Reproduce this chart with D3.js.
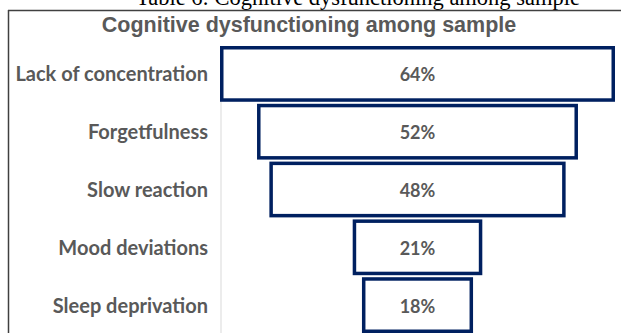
<!DOCTYPE html>
<html><head><meta charset="utf-8">
<script src="https://cdn.jsdelivr.net/npm/d3@7"></script>
<style>html,body{margin:0;padding:0;background:#fff;overflow:hidden}</style>
</head><body>
<svg id="c" width="621" height="333"></svg>
<script>
const categories = ["Lack of concentration","Forgetfulness","Slow reaction","Mood deviations","Sleep deprivation"];
const values = [64, 52, 48, 21, 18];
const valueLabels = ["64%","52%","48%","21%","18%"];
const chartTitle = "Cognitive dysfunctioning among sample";
const captionText = "Table 6: Cognitive dysfunctioning among sample";

const svg = d3.select("#c");
const W = 621, H = 333;
const cx = 417.5;
const navy = "#002060", grey = "#595959";
const sw = 3.5;

// caption, cut off at top
svg.append("text").attr("x", 358).attr("y", 4.5)
  .attr("text-anchor","middle")
  .attr("font-family","Liberation Serif, Times New Roman, serif")
  .attr("font-size", 22.5).attr("fill","#000").text(captionText);

// frame
svg.append("line").attr("x1",8).attr("x2",W).attr("y1",10.5).attr("y2",10.5).attr("stroke","#404040").attr("stroke-width",1.5);
svg.append("line").attr("x1",8.5).attr("x2",8.5).attr("y1",10).attr("y2",H).attr("stroke","#404040").attr("stroke-width",1.5);

svg.append("text").attr("x", 309).attr("y", 32)
  .attr("text-anchor","middle")
  .attr("font-family","Liberation Sans, Arial, sans-serif")
  .attr("font-weight","bold").attr("font-size",21.5).attr("fill",grey).text(chartTitle);

const y = d3.scaleBand().domain(categories).range([46, 333]).paddingInner(0.035).paddingOuter(0);
const w = d3.scaleLinear().domain([0, 64]).range([0, 395]);

// axis line
svg.append("line").attr("x1",221).attr("x2",221).attr("y1",46).attr("y2",H).attr("stroke","#d9d9d9").attr("stroke-width",1);

const g = svg.append("g");
g.selectAll("rect").data(values).join("rect")
  .attr("x", d => cx - w(d)/2 + sw/2)
  .attr("y", (d,i) => y(categories[i]) + sw/2)
  .attr("width", d => w(d) - sw)
  .attr("height", y.bandwidth() - sw)
  .attr("fill","#fff").attr("stroke",navy).attr("stroke-width",sw);

g.selectAll("text.v").data(values).join("text").attr("class","v")
  .attr("x", cx)
  .attr("y", (d,i) => y(categories[i]) + y.bandwidth()/2 + 7.5)
  .attr("text-anchor","middle")
  .attr("font-family","Lato, Carlito, Calibri, sans-serif")
  .attr("font-weight","bold").attr("font-size",18).attr("fill",grey)
  .text((d,i) => valueLabels[i]);

g.selectAll("text.l").data(categories).join("text").attr("class","l")
  .attr("x", 208)
  .attr("y", d => y(d) + y.bandwidth()/2 + 7.5)
  .attr("text-anchor","end")
  .attr("font-family","Lato, Carlito, Calibri, sans-serif")
  .attr("font-weight","bold").attr("font-size",20).attr("fill",grey)
  .text(d => d);
</script>
</body></html>
